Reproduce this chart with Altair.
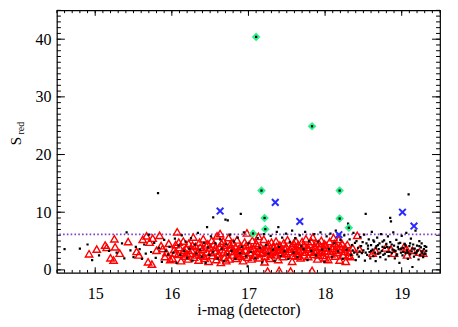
import altair as alt
import pandas as pd

FONT = "Liberation Serif"
W, H = 384, 263

# ---------------- data ----------------
X_MAJOR = [15, 16, 17, 18, 19]
Y_MAJOR = [0, 10, 20, 30, 40]
THRESHOLD = [6.15]

RED = [
    (14.92, 2.8), (15.02, 3.6), (15.13, 4.3), (15.15, 3.9), (15.20, 2.1), (15.24, 1.7), (15.25, 5.4),
    (15.26, 4.0), (15.32, 2.9), (15.43, 4.9), (15.54, 3.2), (15.57, 2.6), (15.62, 5.3), (15.67, 5.9),
    (15.69, 1.4), (15.71, 4.8), (15.74, 1.0), (15.75, 5.5), (15.80, 3.4), (15.84, 6.0), (15.86, 4.2),
    (15.88, 3.7), (15.91, 2.3), (15.93, 3.0), (15.96, 4.6), (15.98, 1.8),
    (16.01, 2.0), (16.03, 3.5), (16.05, 4.4), (16.07, 6.6), (16.08, 2.7), (16.10, 3.9), (16.12, 1.6),
    (16.14, 3.1), (16.15, 5.0), (16.17, 2.4), (16.19, 3.7), (16.21, 1.9), (16.22, 4.6), (16.24, 2.9),
    (16.26, 3.4), (16.28, 5.7), (16.29, 2.2), (16.31, 4.1), (16.33, 3.0), (16.35, 1.7), (16.36, 4.8),
    (16.38, 2.6), (16.40, 3.6), (16.41, 5.4), (16.43, 2.0), (16.45, 4.2), (16.46, 3.1), (16.48, 1.5),
    (16.50, 3.8), (16.52, 5.1), (16.53, 2.5), (16.55, 4.5), (16.56, 3.3), (16.58, 1.8), (16.59, 5.9),
    (16.61, 2.8), (16.62, 4.0), (16.63, 6.3), (16.64, 1.3), (16.66, 3.5), (16.67, 5.0), (16.69, 2.2),
    (16.70, 4.3), (16.72, 3.0), (16.74, 5.6), (16.75, 1.9), (16.77, 3.8), (16.79, 2.6), (16.80, 4.7),
    (16.82, 3.2), (16.84, 2.0), (16.85, 5.2), (16.87, 3.6), (16.88, 2.4), (16.90, 4.1), (16.92, 2.9),
    (16.93, 1.6), (16.95, 4.8), (16.96, 3.4), (16.98, 6.4), (16.99, 2.2),
    (16.04, 2.9), (16.09, 4.8), (16.16, 3.4), (16.20, 2.8), (16.27, 4.3), (16.32, 2.6), (16.37, 3.9),
    (16.42, 2.4), (16.47, 4.5), (16.51, 3.0), (16.57, 3.9), (16.60, 2.4), (16.65, 4.6), (16.68, 3.1),
    (16.71, 1.6), (16.76, 4.4), (16.78, 3.2), (16.83, 4.0), (16.86, 2.8), (16.89, 3.3), (16.94, 2.6),
    (16.97, 4.2),
    (17.01, 4.4), (17.02, 3.0), (17.04, 1.9), (17.05, 5.1), (17.07, 3.7), (17.08, 2.5), (17.10, 4.6),
    (17.11, 3.2), (17.13, 5.8), (17.14, 2.1), (17.16, 4.0), (17.17, 2.9), (17.19, 3.6), (17.20, 5.3),
    (17.21, 1.4), (17.22, 2.4), (17.24, 4.2), (17.25, -0.2), (17.27, 3.3), (17.28, 2.0), (17.30, 4.8),
    (17.31, 3.0), (17.33, 3.9), (17.35, 2.6), (17.36, 5.0), (17.38, 3.4), (17.39, 1.8), (17.40, -0.1),
    (17.41, 4.3), (17.43, 3.0), (17.45, 2.3), (17.46, 4.7), (17.48, 3.6), (17.50, 2.8), (17.51, 5.2),
    (17.53, 3.2), (17.55, -0.2), (17.56, 4.1), (17.57, 1.5), (17.58, 2.5), (17.60, 3.7), (17.62, 5.0),
    (17.63, 2.9), (17.65, 4.4), (17.66, 3.3), (17.68, 2.1), (17.70, 4.9), (17.71, 3.5), (17.73, 2.6),
    (17.75, 5.4), (17.76, 3.9), (17.78, 2.3), (17.80, 4.4), (17.81, 3.1), (17.83, -0.1), (17.84, 5.7),
    (17.85, 2.7), (17.87, 4.0), (17.89, 3.4), (17.90, 1.9), (17.92, 4.6), (17.93, 3.0), (17.95, 5.1),
    (17.97, 2.5), (17.98, 3.8),
    (17.03, 3.6), (17.09, 2.8), (17.12, 4.2), (17.18, 3.1), (17.23, 3.4), (17.26, 4.5), (17.29, 2.7),
    (17.34, 3.3), (17.37, 4.1), (17.42, 3.6), (17.47, 2.9), (17.49, 4.0), (17.54, 3.6), (17.59, 4.6),
    (17.61, 3.2), (17.64, 2.4), (17.67, 4.0), (17.72, 4.3), (17.74, 3.1), (17.79, 3.6), (17.82, 4.9),
    (17.86, 3.2), (17.88, 4.6), (17.91, 2.6), (17.94, 4.0), (17.96, 3.3), (17.99, 4.5),
    (18.00, 2.1), (18.01, 4.3), (18.03, 3.3), (18.04, 1.8), (18.06, 4.9), (18.08, 2.8), (18.10, 3.7),
    (18.11, 5.6), (18.13, 2.4), (18.15, 4.1), (18.16, 3.0), (18.18, 5.3), (18.19, 1.7), (18.21, 3.6),
    (18.22, 4.6), (18.24, 2.6), (18.26, 3.9), (18.27, 1.5), (18.29, 4.4), (18.31, 3.1), (18.33, 2.3),
    (18.36, 3.8), (18.42, 6.0), (18.45, 3.6),
    (18.02, 3.8), (18.07, 3.2), (18.12, 4.6), (18.14, 3.4), (18.20, 4.1), (18.25, 3.2), (18.30, 2.5),
    (18.62, 2.9), (18.66, 3.3), (18.79, 3.8), (18.86, 3.6), (18.90, 2.9), (19.03, 4.0), (19.06, 3.7),
    (19.07, 2.6), (19.14, 3.4), (19.23, 3.1), (19.28, 2.9),
]

BLACK = [
    (14.60, 3.6), (14.80, 3.7), (14.90, 4.4), (14.96, 1.7), (15.05, 2.5), (15.18, 3.3), (15.28, 3.0),
    (15.35, 4.6), (15.38, 2.0), (15.41, 6.5), (15.46, 3.4), (15.50, 2.2), (15.53, 4.0), (15.58, 3.6),
    (15.61, 1.9), (15.64, 4.4), (15.66, 2.8), (15.70, 6.1), (15.73, 3.1), (15.77, 4.7), (15.79, 2.1),
    (15.82, 13.3), (15.83, 3.8), (15.87, 1.4), (15.90, 5.2), (15.92, 3.3), (15.95, 2.7), (15.97, 4.0),
    (16.02, 3.0), (16.04, 5.4), (16.06, 1.2), (16.09, 4.2), (16.11, 2.6), (16.13, 6.0), (16.16, 3.3),
    (16.18, 4.9), (16.20, 2.1), (16.23, 3.7), (16.25, 5.5), (16.27, 1.6), (16.30, 4.4), (16.32, 2.8),
    (16.34, 6.4), (16.37, 3.5), (16.39, 2.3), (16.42, 4.7), (16.44, 1.2), (16.46, 7.4), (16.47, 3.9),
    (16.49, 2.6), (16.51, 5.8), (16.54, 9.1), (16.54, 3.1), (16.57, 4.6), (16.60, 2.0), (16.63, 5.3),
    (16.65, 3.7), (16.68, 1.5), (16.70, 8.7), (16.71, 4.4), (16.73, 8.6), (16.73, 2.7), (16.76, 6.1),
    (16.78, 3.3), (16.81, 4.9), (16.83, 1.9), (16.86, 5.6), (16.89, 2.9), (16.90, 9.7), (16.91, 4.0),
    (16.94, 6.5), (16.97, 2.4), (16.99, 0.6),
    (17.00, 4.6), (17.03, 3.1), (17.06, 6.7), (17.09, 2.0), (17.12, 5.5), (17.15, 3.8), (17.18, 1.3),
    (17.20, 6.2), (17.23, 4.3), (17.26, 2.8), (17.29, 5.9), (17.32, 3.5), (17.34, 1.6), (17.37, 6.6),
    (17.39, 7.4), (17.40, 4.0), (17.42, 2.4), (17.44, 5.6), (17.47, 3.2), (17.49, 6.3), (17.52, 1.9),
    (17.54, 4.8), (17.57, 6.8), (17.59, 3.0), (17.61, 5.5), (17.64, 2.2), (17.67, 6.0), (17.69, 4.1),
    (17.72, 3.6), (17.74, 6.6), (17.77, 1.7), (17.79, 5.0), (17.82, 3.3), (17.86, 6.2), (17.88, 2.5),
    (17.91, 4.9), (17.94, 6.5), (17.96, 3.5), (17.99, 1.4),
    (18.02, 5.8), (18.05, 3.6), (18.07, 6.3), (18.09, 2.3), (18.12, 4.6), (18.14, 6.8), (18.17, 3.2),
    (18.20, 5.2), (18.23, 1.9), (18.25, 6.0), (18.28, 3.5), (18.30, 8.0), (18.32, 5.3), (18.34, 2.6),
    (18.35, 4.3), (18.37, 6.4), (18.38, 3.0), (18.40, 1.7), (18.41, 5.0), (18.43, 3.8), (18.44, 2.3),
    (18.46, 5.7), (18.47, 4.1), (18.48, 2.9), (18.50, 3.4), (18.51, 6.1), (18.52, 1.6), (18.53, 9.7),
    (18.54, 4.6), (18.55, 2.6), (18.56, 3.7), (18.57, 5.3), (18.58, 3.1), (18.59, 2.0), (18.60, 4.3),
    (18.61, 6.6), (18.62, 3.5), (18.63, 2.4), (18.64, 4.9), (18.65, 3.0), (18.66, 1.5), (18.67, 4.1),
    (18.68, 5.6), (18.69, 2.8), (18.70, 3.6), (18.71, 4.6), (18.72, 2.2), (18.73, 6.2), (18.74, 3.3),
    (18.75, 4.0), (18.76, 2.6), (18.77, 5.1), (18.78, 3.8), (18.79, 1.8), (18.80, 4.5), (18.81, 3.1),
    (18.82, 5.8), (18.83, 2.4), (18.84, 3.9), (18.85, 9.0), (18.85, 4.8), (18.86, 8.4), (18.87, 2.9),
    (18.88, 3.5), (18.89, 6.5), (18.90, 4.2), (18.91, 2.0), (18.92, 3.3), (18.93, 5.2), (18.94, 2.7),
    (18.95, 4.0), (18.96, 3.6), (18.97, 1.2), (18.98, 4.7), (18.99, 3.0), (19.00, 5.9), (19.01, 2.5),
    (19.02, 3.8), (19.04, 4.5), (19.05, 2.9), (19.06, 6.4), (19.07, 3.4), (19.08, 1.9), (19.09, 13.1),
    (19.10, 4.1), (19.11, 2.7), (19.12, 5.4), (19.13, 3.2), (19.14, 0.5), (19.15, 4.4), (19.16, 2.3),
    (19.17, 3.7), (19.18, 6.8), (19.19, 2.9), (19.20, 4.2), (19.21, 3.4), (19.22, 1.8), (19.23, 5.0),
    (19.24, 2.6), (19.25, 3.9), (19.26, 4.6), (19.27, 3.0), (19.28, 2.2), (19.29, 3.6), (19.30, 4.1),
    (19.31, 2.8), (19.32, 3.3),
    (18.36, 3.4), (18.39, 4.7), (18.42, 2.7), (18.45, 3.2), (18.49, 4.8), (18.53, 3.0), (18.56, 4.2),
    (18.60, 3.3), (18.63, 5.1), (18.66, 3.8), (18.69, 4.3), (18.72, 3.0), (18.75, 4.9), (18.78, 2.8),
    (18.81, 4.0), (18.84, 3.1), (18.87, 4.4), (18.90, 3.4), (18.93, 2.5), (18.96, 4.6), (18.99, 3.7),
    (19.02, 3.1), (19.05, 4.2), (19.08, 3.0), (19.11, 4.6), (19.14, 3.7), (19.17, 2.9), (19.20, 3.3),
    (19.23, 4.1), (19.26, 3.2), (19.29, 2.7), (19.32, 4.0),
]

GREEN = [(17.10, 40.4), (17.83, 24.9), (17.17, 13.75), (18.19, 13.75), (17.21, 9.0),
         (18.19, 8.9), (17.22, 7.06), (18.31, 7.3), (17.06, 6.3)]

BLUE = [(16.63, 10.2), (17.35, 11.7), (17.67, 8.4), (18.18, 6.1), (19.01, 10.0), (19.16, 7.6)]

# ---------------- chart ----------------
def frame(pts):
    return pd.DataFrame(pts, columns=["mag", "s"])

xs = alt.Scale(domain=[14.5, 19.5], nice=False, zero=False)
ys = alt.Scale(domain=[-0.5, 45], nice=False, zero=False)

xaxis = alt.Axis(title="i-mag (detector)", values=X_MAJOR, ticks=False, domain=False, grid=False,
                 labelFont=FONT, labelFontSize=16, labelPadding=13, labelColor="black", format="d",
                 titleFont=FONT, titleFontSize=16, titleFontWeight="normal", titleColor="black",
                 titlePadding=0)
yaxis = alt.Axis(title=None, values=Y_MAJOR, ticks=False, domain=False, grid=False,
                 labelFont=FONT, labelFontSize=16, labelPadding=6, labelColor="black", format="d")

X = lambda: alt.X("mag:Q", scale=xs, axis=xaxis)
Y = lambda: alt.Y("s:Q", scale=ys, axis=yaxis)

x_minor = [round(14.5 + 0.1 * i, 1) for i in range(51)]
y_minor = list(range(0, 46))

def xticks(vals, length, top):
    return alt.Chart(pd.DataFrame({"mag": vals})).mark_rule(color="black", strokeWidth=1).encode(
        x=X(), y=alt.value(0 if top else H), y2=alt.value(length if top else H - length))

def yticks(vals, length, right):
    return alt.Chart(pd.DataFrame({"s": vals})).mark_rule(color="black", strokeWidth=1).encode(
        y=Y(), x=alt.value(W if right else 0), x2=alt.value(W - length if right else length))

ticks = [
    xticks(x_minor, 2.8, False), xticks(x_minor, 2.8, True),
    xticks(X_MAJOR, 5.5, False), xticks(X_MAJOR, 5.5, True),
    yticks(y_minor, 4, False), yticks(y_minor, 4, True),
    yticks(Y_MAJOR, 8, False), yticks(Y_MAJOR, 8, True),
]

thr = alt.Chart(pd.DataFrame({"s": THRESHOLD})).mark_rule(
    color="#7f3fc8", strokeWidth=1.8, strokeDash=[1.6, 2.2]).encode(y=Y())

red = alt.Chart(frame(RED)).mark_point(
    shape="triangle-up", filled=False, color="#ff0000", strokeWidth=1.4, size=55, opacity=1, clip=True
).encode(x=X(), y=Y())

black = alt.Chart(frame(BLACK)).mark_square(color="black", size=5, opacity=1, clip=True).encode(x=X(), y=Y())

green = alt.Chart(frame(GREEN)).mark_point(
    shape="diamond", filled=True, color="#2ef08c", size=75, opacity=1).encode(x=X(), y=Y())
green_c = alt.Chart(frame(GREEN)).mark_square(color="black", size=5, opacity=1).encode(x=X(), y=Y())

blue = alt.Chart(frame(BLUE)).mark_point(
    shape="M-1,-1L1,1M-1,1L1,-1", filled=False, color="#2a2aff", strokeWidth=2, size=45, opacity=1
).encode(x=X(), y=Y())

s_title = alt.Chart(pd.DataFrame({"t": ["S"]})).mark_text(
    font=FONT, fontSize=15, angle=270, align="center", baseline="alphabetic", color="black"
).encode(text="t:N", x=alt.value(-36), y=alt.value(131))
sub_title = alt.Chart(pd.DataFrame({"t": ["red"]})).mark_text(
    font=FONT, fontSize=10, angle=270, align="center", baseline="alphabetic", color="black"
).encode(text="t:N", x=alt.value(-33), y=alt.value(118))

chart = alt.layer(*ticks, thr, red, black, green, green_c, blue, s_title, sub_title).properties(
    width=W, height=H,
    padding={"left": 49, "top": 2, "right": 10, "bottom": 52},
    autosize=alt.AutoSizeParams(type="none"),
).configure_view(stroke="black", strokeWidth=1.2)

chart.save("out.html", embed_options={"renderer": "svg", "actions": False})
